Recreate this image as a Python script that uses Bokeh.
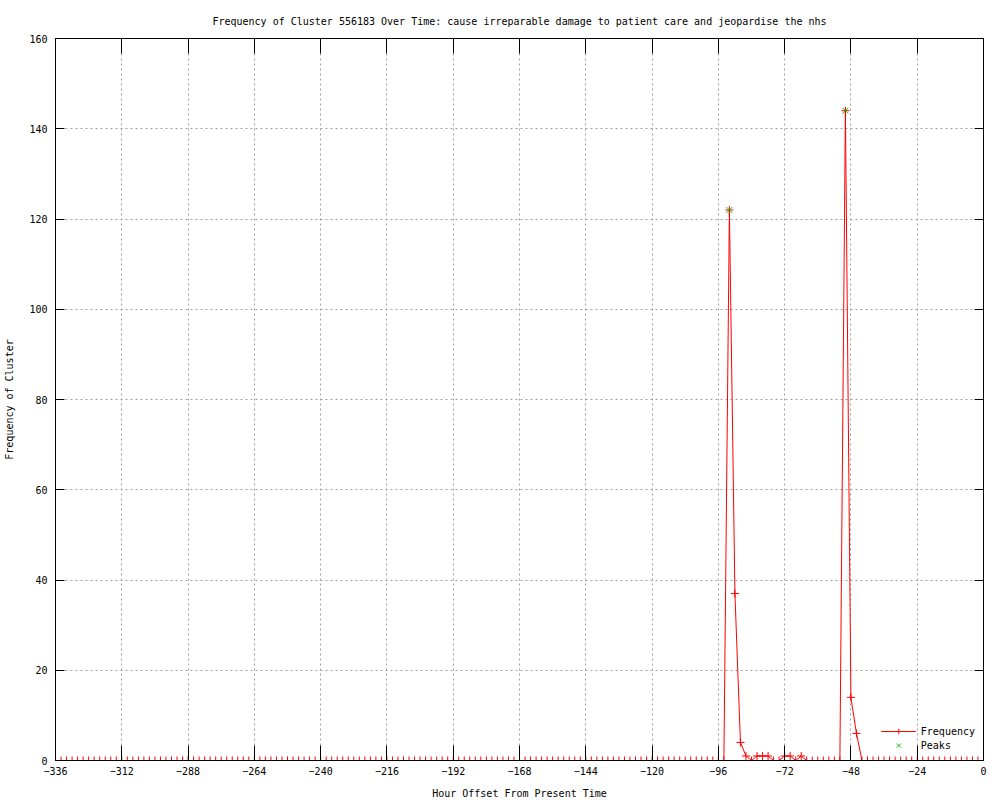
from bokeh.plotting import figure
from bokeh.models import Range1d, FixedTicker, LinearAxis, Legend, LegendItem
from bokeh.embed import file_html
from bokeh.resources import INLINE

title_text = ("Frequency of Cluster 556183 Over Time: cause irreparable damage "
              "to patient care and jeopardise the nhs")
x_label = "Hour Offset From Present Time"
y_label = "Frequency of Cluster"

# hourly offsets, one sample every 2 hours from -336 to 0
hours = list(range(-336, 1, 2))

frequency = [
    0, 0, 0, 0, 0, 0, 0, 0, 0, 0, 0, 0, 0, 0, 0, 0, 0, 0, 0, 0,   # -336 .. -298
    0, 0, 0, 0, 0, 0, 0, 0, 0, 0, 0, 0, 0, 0, 0, 0, 0, 0, 0, 0,   # -296 .. -258
    0, 0, 0, 0, 0, 0, 0, 0, 0, 0, 0, 0, 0, 0, 0, 0, 0, 0, 0, 0,   # -256 .. -218
    0, 0, 0, 0, 0, 0, 0, 0, 0, 0, 0, 0, 0, 0, 0, 0, 0, 0, 0, 0,   # -216 .. -178
    0, 0, 0, 0, 0, 0, 0, 0, 0, 0, 0, 0, 0, 0, 0, 0, 0, 0, 0, 0,   # -176 .. -138
    0, 0, 0, 0, 0, 0, 0, 0, 0, 0, 0, 0, 0, 0, 0, 0, 0, 0, 0, 0,   # -136 .. -98
    0, 0, 122, 37, 4, 1, 0, 1, 1, 1, 0, 0, 1, 1, 0, 1, 0, 0, 0, 0,  # -96 .. -58
    0, 0, 0, 144, 14, 6, 0, 0, 0, 0, 0, 0, 0, 0, 0, 0, 0, 0, 0, 0,  # -56 .. -18
    0, 0, 0, 0, 0, 0, 0, 0, 0,                                     # -16 .. 0
]

peak_hours = [-92, -50]
peak_values = [122, 144]

x_ticks = [-336, -312, -288, -264, -240, -216, -192, -168, -144, -120,
           -96, -72, -48, -24, 0]
y_ticks = [0, 20, 40, 60, 80, 100, 120, 140, 160]

FONT = "DejaVu Sans Mono"
RED = "#ff0000"
GREEN = "#00c000"
GRID = "#a0a0a0"

p = figure(frame_width=928, frame_height=722,
           x_range=Range1d(-336, 0), y_range=Range1d(0, 160),
           output_backend="svg", toolbar_location=None,
           min_border_left=55, min_border_right=15,
           min_border_top=38, min_border_bottom=38,
           title=title_text)

p.background_fill_color = "white"
p.border_fill_color = "white"
p.outline_line_color = "black"
p.outline_line_width = 1

p.title.align = "center"
p.title.text_font = FONT
p.title.text_font_size = "10px"
p.title.text_font_style = "normal"
p.title.text_color = "black"
p.title.standoff = 23

# main axes
xa = p.xaxis[0]
ya = p.yaxis[0]
xa.ticker = FixedTicker(ticks=x_ticks)
ya.ticker = FixedTicker(ticks=y_ticks)
for ax in (xa, ya):
    ax.major_label_text_font = FONT
    ax.major_label_text_font_size = "10px"
    ax.major_label_text_color = "black"
    ax.axis_label_text_font = FONT
    ax.axis_label_text_font_size = "10px"
    ax.axis_label_text_font_style = "normal"
    ax.axis_label_text_color = "black"
    ax.axis_line_color = "black"
    ax.major_tick_line_color = "black"
    ax.major_tick_out = 0
    ax.minor_tick_line_color = None
xa.axis_label = x_label
ya.axis_label = y_label
xa.major_tick_in = 15
ya.major_tick_in = 9
xa.major_label_standoff = 6
ya.major_label_standoff = 8
xa.axis_label_standoff = 10
ya.axis_label_standoff = 11

# mirrored ticks on top and right (drawn as label-free minor ticks)
top = LinearAxis(ticker=FixedTicker(ticks=[], minor_ticks=x_ticks))
right = LinearAxis(ticker=FixedTicker(ticks=[], minor_ticks=y_ticks))
for ax, tin in ((top, 15), (right, 9)):
    ax.major_label_standoff = 0
    ax.major_tick_line_color = None
    ax.major_tick_out = 0
    ax.minor_tick_in = tin
    ax.minor_tick_out = 0
    ax.minor_tick_line_color = "black"
    ax.axis_line_color = "black"
p.add_layout(top, "above")
p.add_layout(right, "right")

for g in (p.xgrid[0], p.ygrid[0]):
    g.grid_line_color = GRID
    g.grid_line_dash = "2 3"
    g.grid_line_width = 1
p.xgrid[0].ticker = FixedTicker(ticks=x_ticks)
p.ygrid[0].ticker = FixedTicker(ticks=y_ticks)

freq_line = p.line(hours, frequency, line_color=RED, line_width=1)
freq_pts = p.scatter(hours, frequency, marker="cross", size=8,
                     line_color=RED, line_width=1)
peak_pts = p.scatter(peak_hours, peak_values, marker="x", size=8,
                     line_color=GREEN, line_width=1)

legend = Legend(items=[LegendItem(label="Frequency", renderers=[freq_line, freq_pts]),
                       LegendItem(label="Peaks", renderers=[peak_pts])],
                location="bottom_right")
legend.label_text_font = FONT
legend.label_text_font_size = "10px"
legend.label_text_color = "black"
legend.border_line_color = None
legend.background_fill_alpha = 0
legend.glyph_width = 35
legend.glyph_height = 14
legend.label_height = 12
legend.spacing = 0
legend.padding = 2
legend.margin = 8
p.add_layout(legend)

open("out.html", "w").write(file_html(p, INLINE))
